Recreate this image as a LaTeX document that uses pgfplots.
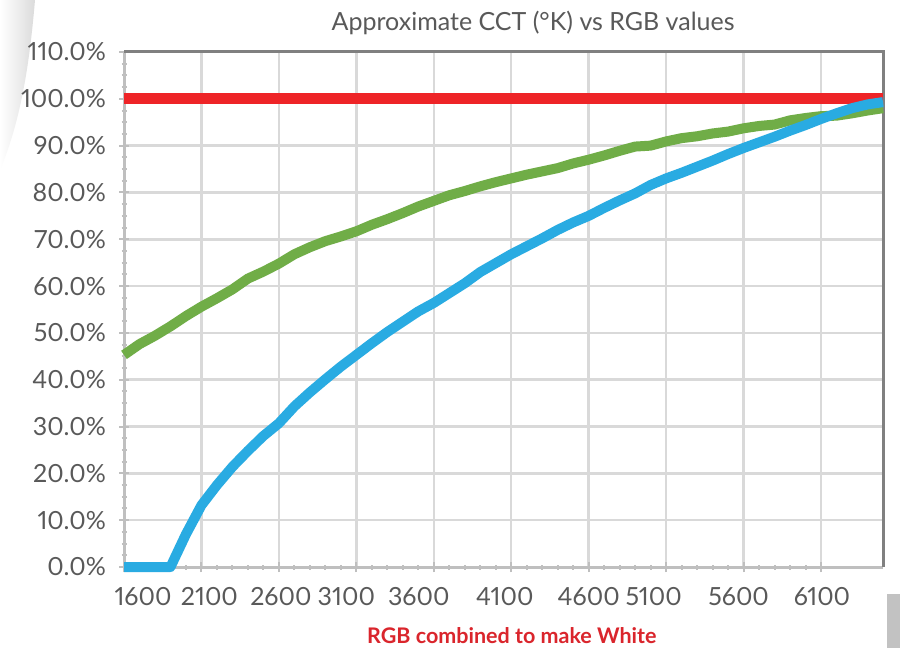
\documentclass[border=0pt]{standalone}
\usepackage{fontspec}
\setmainfont{Lato}[Numbers=Proportional]
\usepackage{pgfplots}
\pgfplotsset{compat=1.18}
\definecolor{cred}{RGB}{238,36,39}
\definecolor{cgreen}{RGB}{112,173,71}
\definecolor{cblue}{RGB}{41,171,226}
\definecolor{cgrid}{RGB}{217,217,217}
\definecolor{caxis}{RGB}{191,191,191}
\definecolor{cborder}{RGB}{128,128,128}
\definecolor{ctext}{RGB}{89,89,89}
\definecolor{clabel}{RGB}{218,37,44}
\newcommand\xl[2]{\makebox[0pt][c]{\hspace*{#1}#2}}

\pgfplotstableread{
K blue green
1600 0 45.3
1700 0 47.6
1800 0 49.4
1900 0 51.4
2000 7.0 53.6
2100 13.2 55.6
2200 17.5 57.4
2300 21.4 59.3
2400 24.8 61.6
2500 28.0 63.1
2600 30.7 64.8
2700 34.3 66.8
2800 37.3 68.3
2900 40.1 69.6
3000 42.8 70.6
3100 45.3 71.7
3200 47.8 73.1
3300 50.2 74.3
3400 52.4 75.6
3500 54.6 77.0
3600 56.4 78.2
3700 58.5 79.4
3800 60.6 80.3
3900 63.0 81.3
4000 64.9 82.2
4100 66.8 83.0
4200 68.5 83.8
4300 70.2 84.5
4400 72.0 85.2
4500 73.6 86.2
4600 75.0 87.0
4700 76.7 87.9
4800 78.3 88.9
4900 79.8 89.8
5000 81.6 90.0
5100 83.0 90.9
5200 84.2 91.6
5300 85.5 92.0
5400 86.8 92.6
5500 88.2 93.0
5600 89.5 93.7
5700 90.7 94.2
5800 91.9 94.5
5900 93.2 95.4
6000 94.4 95.9
6100 95.7 96.3
6200 96.9 96.4
6300 98.0 96.9
6400 98.8 97.5
6500 99.3 98.0
}\datatable

\begin{document}
\begin{tikzpicture}
\useasboundingbox (0pt,0pt) rectangle (909pt,648pt);
\fill[white] (0pt,0pt) rectangle (909pt,648pt);
% page decorations
\shade[left color=white, right color=black!14]
  (0pt,648pt) -- (35pt,648pt) .. controls (30pt,590pt) and (22pt,530pt) .. (0pt,478pt) -- cycle;
\fill[black!24] (887pt,0pt) rectangle (900pt,54pt);

\begin{axis}[
  at={(124pt,81pt)}, anchor=south west,
  width=759pt, height=515pt, scale only axis,
  xmin=1600, xmax=6500, ymin=0, ymax=110,
  xtick={1600,2100,...,6100},
  xticklabels={\xl{38pt}{1600},\xl{16pt}{2100},\xl{4pt}{2600},\xl{-20pt}{3100},\xl{-30pt}{3600},\xl{-13pt}{4100},\xl{0pt}{4600},\xl{-25pt}{5100},\xl{-10pt}{5600},\xl{2pt}{6100}},
  ytick={0,10,...,110},
  yticklabels={0.0\%,10.0\%,20.0\%,30.0\%,40.0\%,50.0\%,60.0\%,70.0\%,80.0\%,90.0\%,100.0\%,110.0\%},
  minor x tick num=4, minor y tick num=3,
  grid=major,
  major grid style={draw=cgrid, line width=2.5pt},
  axis line style={draw=none},
  tick style={draw=caxis, line width=2pt},
  major tick length=10pt, minor tick length=5pt, tick align=center,
  xtick pos=lower, ytick pos=left,
  tick label style={font=\fontsize{25}{30}\selectfont, text=ctext},
  xticklabel style={anchor=north, inner sep=0pt, yshift=-15pt},
  yticklabel style={anchor=east, inner sep=0pt, xshift=-13pt},
  clip=false,
]
\draw[caxis, line width=3pt] (rel axis cs:0,1) -- (rel axis cs:0,0) -- (rel axis cs:1,0);
\draw[cborder, line width=3pt] (rel axis cs:0,1) -- (rel axis cs:1,1) -- (rel axis cs:1,0);
\addplot[cred, line width=11pt] coordinates {(1600,100) (6500,100)};
\addplot[cgreen, line width=10pt, line join=round] table[x=K, y=green] {\datatable};
\addplot[cblue, line width=10pt, line join=round] table[x=K, y=blue] {\datatable};
\node[anchor=base, font=\fontsize{25}{30}\selectfont, text=ctext, inner sep=0pt]
  at (rel axis cs:0.539,1) [yshift=21pt] {Approximate CCT (°K) vs RGB values};
\node[anchor=base, font=\fontsize{21.5}{26}\selectfont\bfseries, text=clabel, inner sep=0pt]
  at (rel axis cs:0.511,0) [yshift=-76pt] {RGB combined to make White};
\end{axis}
\end{tikzpicture}
\end{document}
